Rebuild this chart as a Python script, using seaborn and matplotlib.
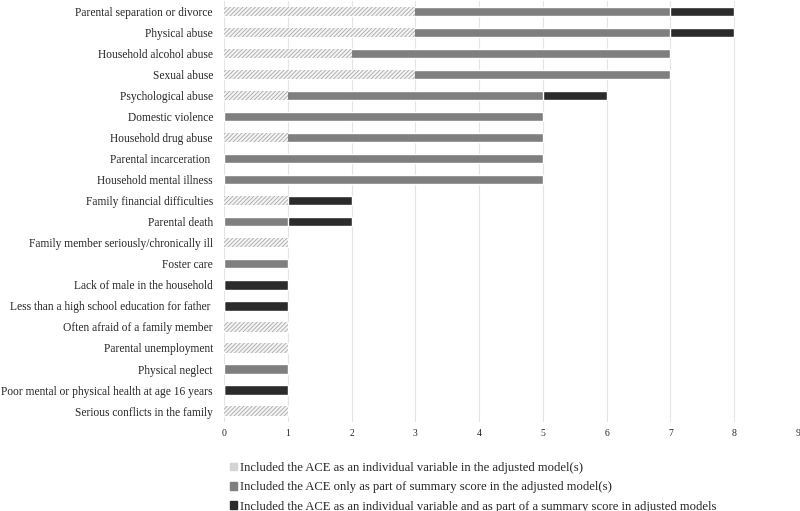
import matplotlib
matplotlib.use("Agg")
import matplotlib.pyplot as plt
import seaborn as sns
import pandas as pd
from matplotlib.patches import Patch

categorieen = [
    "Parental separation or divorce",
    "Physical abuse",
    "Household alcohol abuse",
    "Sexual abuse",
    "Psychological abuse",
    "Domestic violence",
    "Household drug abuse",
    "Parental incarceration ",
    "Household mental illness",
    "Family financial difficulties",
    "Parental death",
    "Family member seriously/chronically ill",
    "Foster care",
    "Lack of male in the household",
    "Less than a high school education for father ",
    "Often afraid of a family member",
    "Parental unemployment",
    "Physical neglect",
    "Poor mental or physical health at age 16 years",
    "Serious conflicts in the family",
]
individueel = [3, 3, 2, 3, 1, 0, 1, 0, 0, 1, 0, 1, 0, 0, 0, 1, 1, 0, 0, 1]
alleen_samenvatting = [4, 4, 5, 4, 4, 5, 4, 5, 5, 0, 1, 0, 1, 0, 0, 0, 0, 1, 0, 0]
beide = [1, 1, 0, 0, 1, 0, 0, 0, 0, 1, 1, 0, 0, 1, 1, 0, 0, 0, 1, 0]

legenda_labels = [
    "Included the ACE as an individual variable in the adjusted model(s)",
    "Included the ACE only as part of summary score in the adjusted model(s)",
    "Included the ACE as an individual variable and as part of a summary score in adjusted models",
]

kleur_hatch = "#f4f4f4"
kleur_grijs = "#7f7f7f"
kleur_zwart = "#2b2b2b"

sns.set_style("white")
plt.rcParams["font.family"] = ["Liberation Serif", "DejaVu Serif"]
plt.rcParams["hatch.color"] = "#a8a8a8"
plt.rcParams["hatch.linewidth"] = 0.6

df = pd.DataFrame({
    "ace": categorieen,
    "individueel": individueel,
    "samenvatting": alleen_samenvatting,
    "beide": beide,
})
df["cum_grijs"] = df["individueel"] + df["samenvatting"]
df["totaal"] = df["cum_grijs"] + df["beide"]

fig = plt.figure(figsize=(8, 5.11), dpi=100)
ax = fig.add_axes([0.28, 0.175, 0.7175, 0.823])

breedte = 0.44
sns.barplot(data=df, x="totaal", y="ace", color=kleur_zwart, saturation=1,
            width=breedte, ax=ax, zorder=2)
sns.barplot(data=df, x="cum_grijs", y="ace", color=kleur_grijs, saturation=1,
            width=breedte, ax=ax, zorder=3)
n_voor = len(ax.patches)
sns.barplot(data=df, x="individueel", y="ace", color=kleur_hatch, saturation=1,
            width=breedte, ax=ax, zorder=4)
for patch in ax.patches[n_voor:]:
    patch.set_hatch("////////")
    patch.set_edgecolor("#a8a8a8")
    patch.set_linewidth(0)

ax.set_xlim(0, 9)
ax.set_xticks(range(0, 10))
ax.set_xlabel("")
ax.set_ylabel("")
ax.grid(axis="x", color="#e4e4e4", linewidth=0.8, zorder=0)
ax.set_axisbelow(True)
sns.despine(ax=ax, left=True, bottom=True)
ax.tick_params(axis="x", labelsize=7, length=0, pad=5)
ax.tick_params(axis="y", labelsize=8.3, length=0, pad=8)

handles = [
    Patch(facecolor="#d4d4d4", edgecolor="#d4d4d4"),
    Patch(facecolor=kleur_grijs, edgecolor=kleur_grijs),
    Patch(facecolor=kleur_zwart, edgecolor=kleur_zwart),
]
fig.legend(handles, legenda_labels, loc="upper left", bbox_to_anchor=(0.287, 0.096),
           frameon=False, fontsize=9.1, handlelength=0.55, handleheight=0.55,
           handletextpad=0.3, labelspacing=0.58, borderaxespad=0, borderpad=0)

fig.savefig("out.png", dpi=100)
